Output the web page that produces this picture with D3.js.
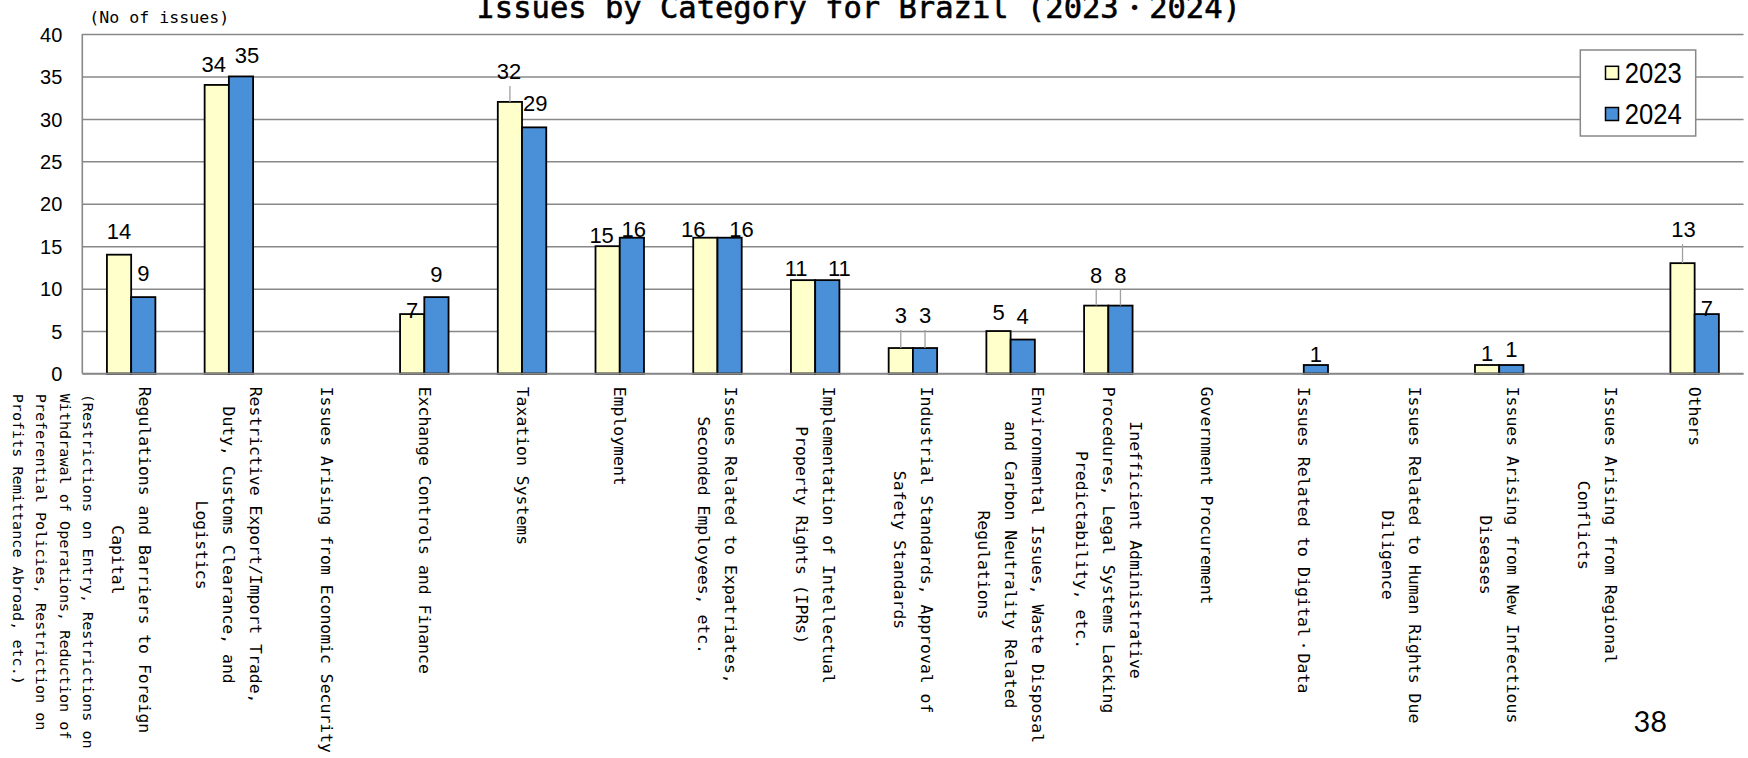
<!DOCTYPE html>
<html>
<head>
<meta charset="utf-8">
<script src="https://cdn.jsdelivr.net/npm/d3@7"></script>
<style>
  html, body { margin: 0; padding: 0; background: #fff; }
  svg { display: block; }
</style>
</head>
<body>
<svg id="chart" width="1748" height="758"></svg>
<script>
// ---- data ----
const categories = [
  "Regulations and Barriers to Foreign\nCapital",
  "Restrictive Export/Import Trade,\nDuty, Customs Clearance, and\nLogistics",
  "Issues Arising from Economic Security",
  "Exchange Controls and Finance",
  "Taxation Systems",
  "Employment",
  "Issues Related to Expatriates,\nSeconded Employees, etc.",
  "Implementation of Intellectual\nProperty Rights (IPRs)",
  "Industrial Standards, Approval of\nSafety Standards",
  "Environmental Issues, Waste Disposal\nand Carbon Neutrality Related\nRegulations",
  "Inefficient Administrative\nProcedures, Legal Systems Lacking\nPredictability, etc.",
  "Government Procurement",
  "Issues Related to Digital・Data",
  "Issues Related to Human Rights Due\nDiligence",
  "Issues Arising from New Infectious\nDiseases",
  "Issues Arising from Regional\nConflicts",
  "Others"
];
const categoryNotes = [
  "(Restrictions on Entry, Restrictions on\nWithdrawal of Operations, Reduction of\nPreferential Policies, Restriction on\nProfits Remittance Abroad, etc.)",
  "", "", "", "", "", "", "", "", "", "", "", "", "", "", "", ""
];
const seriesNames = ["2023", "2024"];
const values2023 = [14, 34, 0, 7, 32, 15, 16, 11, 3, 5, 8, 0, 0, 0, 1, 0, 13];
const values2024 = [9, 35, 0, 9, 29, 16, 16, 11, 3, 4, 8, 0, 1, 0, 1, 0, 7];
const yTicks = [0, 5, 10, 15, 20, 25, 30, 35, 40];
const titleText = "Issues by Category for Brazil (2023・2024)";
const unitText = "(No of issues)";
const pageNumber = "38";

// ---- label placement tweaks: [dx, baseline offset from bar top] ----
const labelShift2023 = [[0,-16],[-3,-13],[0,0],[0,4],[-1,-23],[-6,-3],[-12,-1],[-7,-4],[0,-25],[0,-11],[0,-23],[0,0],[0,0],[0,0],[0,-4],[0,0],[1,-26]];
const labelShift2024 = [[0,-16],[6,-13],[0,0],[0,-15],[1,-16],[2,-1],[12,-1],[12,-4],[0,-25],[0,-16],[0,-23],[0,0],[0,-3],[0,0],[0,-8],[0,0],[0,2]];

// ---- layout ----
const W = 1748, H = 758;
const plot = { left: 82.3, right: 1743.5, top: 34, bottom: 373.5 };
const colors = { "2023": "#FFFFCC", "2024": "#4A90D9" };
const gridColor = "#888888";
const monoFont = "'DejaVu Sans Mono', 'Liberation Mono', monospace";
const sansFont = "'Liberation Sans', Arial, sans-serif";

const svg = d3.select("#chart");
svg.append("rect").attr("width", W).attr("height", H).attr("fill", "#fff");

const idx = d3.range(categories.length);
const x0 = d3.scaleBand().domain(idx).range([plot.left, plot.right])
  .paddingInner(0.504).paddingOuter(0.252);
const x1 = d3.scaleBand().domain(seriesNames).range([0, x0.bandwidth()]);
const y = d3.scaleLinear().domain([0, 40]).range([plot.bottom, plot.top]);
const catCenter = i => x0(i) + x0.bandwidth() / 2;

// gridlines
const grid = svg.append("g").attr("transform", `translate(${plot.left},0)`)
  .call(d3.axisLeft(y).tickValues(yTicks).tickSize(-(plot.right - plot.left)).tickFormat(""));
grid.select(".domain").remove();
grid.selectAll("line").attr("stroke", gridColor).attr("stroke-width", 1.5);

// y-axis tick labels
const yAxis = svg.append("g").attr("transform", `translate(${plot.left},0)`)
  .call(d3.axisLeft(y).tickValues(yTicks).tickSize(0).tickPadding(20));
yAxis.select(".domain").remove();
yAxis.selectAll("text")
  .attr("font-family", sansFont).attr("font-size", 20).attr("fill", "#000")
  .attr("dy", "0.36em");

// left axis line
svg.append("line")
  .attr("x1", plot.left).attr("x2", plot.left)
  .attr("y1", y(0)).attr("y2", y(40))
  .attr("stroke", gridColor).attr("stroke-width", 1.6);

// bars
const series = [
  { name: "2023", values: values2023, shift: labelShift2023 },
  { name: "2024", values: values2024, shift: labelShift2024 }
];
const barGroup = svg.append("g");
series.forEach(s => {
  barGroup.selectAll(null)
    .data(s.values.map((v, i) => ({ v, i })).filter(d => d.v > 0))
    .join("rect")
    .attr("x", d => x0(d.i) + x1(s.name))
    .attr("y", d => y(d.v))
    .attr("width", x1.bandwidth())
    .attr("height", d => y(0) - y(d.v))
    .attr("fill", colors[s.name])
    .attr("stroke", "#000")
    .attr("stroke-width", 1.8);
});

// baseline
svg.append("line")
  .attr("x1", plot.left).attr("x2", plot.right)
  .attr("y1", y(0)).attr("y2", y(0))
  .attr("stroke", gridColor).attr("stroke-width", 1.6);

// value labels (with leader lines where a label sits away from its bar)
const labelGroup = svg.append("g");
series.forEach(s => {
  s.values.forEach((v, i) => {
    if (v <= 0) return;
    const bx = x0(i) + x1(s.name) + x1.bandwidth() / 2;
    const top = y(v);
    const [dx, off] = s.shift[i];
    const base = top + off;
    if (off < -18) {
      labelGroup.append("line")
        .attr("x1", bx).attr("x2", bx)
        .attr("y1", base + 7).attr("y2", top)
        .attr("stroke", "#a0a0a0").attr("stroke-width", 1.3);
    }
    labelGroup.append("text")
      .attr("x", bx + dx).attr("y", base)
      .attr("text-anchor", "middle")
      .attr("font-family", sansFont).attr("font-size", 22).attr("fill", "#000")
      .text(v);
  });
});

// category labels, rotated to read top-to-bottom
const PITCH = 9.9, NOTE_PITCH = 9.1, LINE_GAP = 27, NOTE_GAP = 23.5, LABEL_TOP = 386.7;
const units = s => Array.from(s).reduce((u, ch) => u + (ch.charCodeAt(0) > 0x2000 ? 2 : 1), 0);
const catLabels = svg.append("g");
categories.forEach((label, i) => {
  const lines = label.split("\n");
  const n = lines.length;
  const cx = catCenter(i);
  const longest = d3.max(lines, units) * PITCH;
  const cy = LABEL_TOP + longest / 2;
  lines.forEach((line, k) => {
    const xo = ((n - 1) / 2 - k) * LINE_GAP;
    catLabels.append("text")
      .attr("transform", `translate(${cx + xo},${cy}) rotate(90)`)
      .attr("text-anchor", "middle")
      .attr("dominant-baseline", "central")
      .attr("font-family", monoFont).attr("font-size", 16).attr("fill", "#000")
      .attr("textLength", units(line) * PITCH)
      .attr("lengthAdjust", "spacingAndGlyphs")
      .text(line);
  });
  const note = categoryNotes[i];
  if (note) {
    const firstX = cx + ((n - 1) / 2 - (n - 1)) * LINE_GAP - 29;
    note.split("\n").forEach((line, k) => {
      catLabels.append("text")
        .attr("transform", `translate(${firstX - k * NOTE_GAP},${LABEL_TOP + 7}) rotate(90)`)
        .attr("text-anchor", "start")
        .attr("dominant-baseline", "central")
        .attr("font-family", monoFont).attr("font-size", 14.8).attr("fill", "#000")
        .attr("textLength", units(line) * NOTE_PITCH)
        .attr("lengthAdjust", "spacingAndGlyphs")
        .text(line);
    });
  }
});

// title (runs off the top edge)
svg.append("text")
  .attr("x", 476.5).attr("y", 18.3)
  .attr("font-family", monoFont).attr("font-size", 30).attr("fill", "#000")
  .attr("stroke", "#000").attr("stroke-width", 0.6)
  .attr("textLength", units(titleText) * 18.2)
  .attr("lengthAdjust", "spacingAndGlyphs")
  .text(titleText);

// unit caption
svg.append("text")
  .attr("x", 89.3).attr("y", 23)
  .attr("font-family", monoFont).attr("font-size", 16).attr("fill", "#000")
  .attr("textLength", units(unitText) * 10)
  .attr("lengthAdjust", "spacingAndGlyphs")
  .text(unitText);

// legend
const legend = svg.append("g");
legend.append("rect")
  .attr("x", 1580.3).attr("y", 50).attr("width", 115.4).attr("height", 86)
  .attr("fill", "#fff").attr("stroke", gridColor).attr("stroke-width", 1.5);
const legendRows = [72.8, 114];
seriesNames.forEach((name, k) => {
  const cy = legendRows[k];
  legend.append("rect")
    .attr("x", 1605.5).attr("y", cy - 6.5).attr("width", 13).attr("height", 13)
    .attr("fill", colors[name]).attr("stroke", "#000").attr("stroke-width", 1.5);
  legend.append("text")
    .attr("x", 1624.7).attr("y", cy).attr("dy", "0.36em")
    .attr("font-family", sansFont).attr("font-size", 29).attr("fill", "#000")
    .attr("textLength", 57).attr("lengthAdjust", "spacingAndGlyphs")
    .text(name);
});

// page number
svg.append("text")
  .attr("x", 1633.4).attr("y", 731.7)
  .attr("font-family", "Lato, 'Open Sans', sans-serif").attr("font-size", 29).attr("fill", "#000")
  .text(pageNumber);
</script>
</body>
</html>
